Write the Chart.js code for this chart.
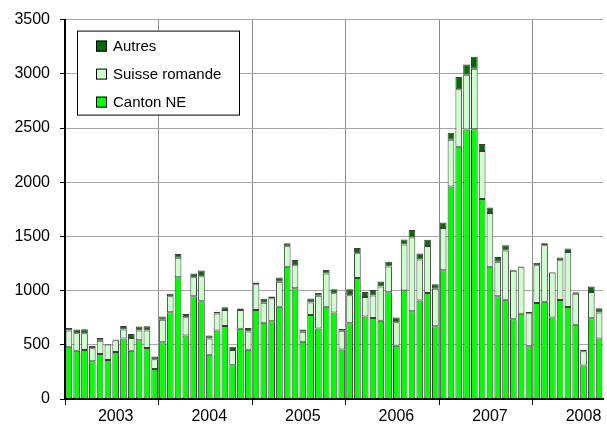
<!DOCTYPE html>
<html>
<head>
<meta charset="utf-8">
<script src="https://cdn.jsdelivr.net/npm/chart.js@4"></script>
<style>
  html, body { margin: 0; padding: 0; background: #fff; }
  #wrap { width: 607px; height: 434px; }
</style>
</head>
<body>
<div id="wrap"><canvas id="grafico" width="607" height="434"></canvas></div>
<script>
// mois de janvier 2003 à septembre 2008
const annees = [2003, 2004, 2005, 2006, 2007, 2008];
const moisParAnnee = [12, 12, 12, 12, 12, 9];

const cantonNE = [
  483, 446, 452, 348, 415, 360, 434, 557, 446, 542, 471, 277,
  523, 800, 1123, 585, 948, 902, 409, 631, 674, 311, 649, 455,
  820, 703, 718, 850, 1219, 1022, 528, 774, 651, 850, 798, 457,
  698, 1117, 760, 748, 723, 985, 492, 1000, 809, 908, 978, 671,
  1188, 1960, 2327, 2486, 2489, 1846, 1219, 949, 916, 735, 787, 487,
  886, 898, 751, 914, 849, 686, 308, 745, 557
];
const suisseRomande = [
  148, 160, 154, 120, 123, 142, 108, 83, 117, 89, 160, 89,
  209, 148, 179, 169, 175, 230, 148, 157, 148, 141, 173, 167,
  239, 184, 212, 231, 190, 212, 92, 116, 301, 307, 178, 172,
  259, 228, 182, 206, 314, 237, 216, 425, 680, 378, 434, 347,
  389, 431, 530, 506, 558, 441, 496, 316, 453, 447, 429, 303,
  348, 520, 415, 366, 508, 286, 132, 243, 240
];
const autres = [
  24, 34, 37, 21, 25, 6, 6, 34, 37, 37, 40, 25,
  28, 24, 36, 31, 34, 53, 28, 18, 24, 31, 12, 33,
  16, 37, 16, 40, 28, 49, 22, 37, 27, 34, 37, 16,
  55, 49, 46, 52, 46, 43, 43, 46, 71, 56, 56, 40,
  52, 65, 113, 94, 110, 65, 52, 46, 49, 10, 6, 15,
  24, 19, 5, 25, 31, 13, 15, 49, 40
];

const yTicks = [0, 500, 1000, 1500, 2000, 2500, 3000, 3500];

const labels = [];
annees.forEach((an, i) => {
  for (let m = 1; m <= moisParAnnee[i]; m++) {
    labels.push(an + "-" + (m < 10 ? "0" + m : m));
  }
});

const police = "'Liberation Sans', Arial, sans-serif";

// légende encadrée dans le coin supérieur gauche
const legendeCadre = {
  id: "legendeCadre",
  afterDatasetsDraw(chart) {
    const { ctx, chartArea } = chart;
    const x = chartArea.left + 12;
    const y = chartArea.top + 11;
    const w = 162;
    const h = 84;
    ctx.save();
    ctx.fillStyle = "#fff";
    ctx.fillRect(x, y, w, h);
    ctx.strokeStyle = "#000";
    ctx.lineWidth = 1;
    ctx.strokeRect(x + 0.5, y + 0.5, w, h);
    const items = [...chart.data.datasets].reverse();
    ctx.font = "15px " + police;
    ctx.textBaseline = "middle";
    items.forEach((ds, i) => {
      const cy = y + 15.5 + i * 28;
      ctx.fillStyle = ds.backgroundColor;
      ctx.fillRect(x + 19, cy - 5.5, 11, 11);
      ctx.strokeStyle = "#000";
      ctx.strokeRect(x + 19.5, cy - 5, 10, 10);
      ctx.fillStyle = "#000";
      ctx.fillText(ds.label, x + 36, cy + 1);
    });
    ctx.restore();
  }
};

document.addEventListener("DOMContentLoaded", () => {
  const ctx = document.getElementById("grafico").getContext("2d");

  const serie = (label, data, couleur) => ({
    label,
    data,
    backgroundColor: couleur,
    borderColor: "#3c3c3c",
    borderWidth: 1,
    borderSkipped: false,
    barPercentage: 0.86,
    categoryPercentage: 1
  });

  new Chart(ctx, {
    type: "bar",
    data: {
      labels,
      datasets: [
        serie("Canton NE", cantonNE, "#00ff00"),
        serie("Suisse romande", suisseRomande, "#ccffcc"),
        serie("Autres", autres, "#006e00")
      ]
    },
    options: {
      responsive: false,
      animation: false,
      layout: { padding: { top: 17, right: 4, left: 0, bottom: 0 } },
      plugins: {
        legend: { display: false },
        tooltip: { enabled: false }
      },
      scales: {
        x: {
          stacked: true,
          grid: {
            offset: true,
            color: c => (c.index % 12 === 0 ? "#8c8c8c" : "rgba(0,0,0,0)"),
            lineWidth: 1,
            tickLength: 6,
            tickColor: c => (c.index % 12 === 0 ? "#000" : "rgba(0,0,0,0)")
          },
          border: { color: "#000", width: 2 },
          ticks: {
            autoSkip: false,
            maxRotation: 0,
            minRotation: 0,
            color: "#000",
            font: { size: 16, family: police },
            padding: 2,
            callback: (v, i) => (i % 12 === 6 ? labels[i].slice(0, 4) : "")
          },
          afterFit: s => { s.height = 35; }
        },
        y: {
          stacked: true,
          min: 0,
          max: 3500,
          grid: { color: "#a6a6a6", lineWidth: 1, tickLength: 5, tickColor: "#000" },
          border: { color: "#000", width: 2 },
          afterBuildTicks: s => { s.ticks = yTicks.map(v => ({ value: v })); },
          ticks: {
            color: "#000",
            font: { size: 16, family: police },
            padding: 10,
            callback: v => String(v)
          },
          afterFit: s => { s.width = 65; }
        }
      }
    },
    plugins: [legendeCadre]
  });
});
</script>
</body>
</html>
